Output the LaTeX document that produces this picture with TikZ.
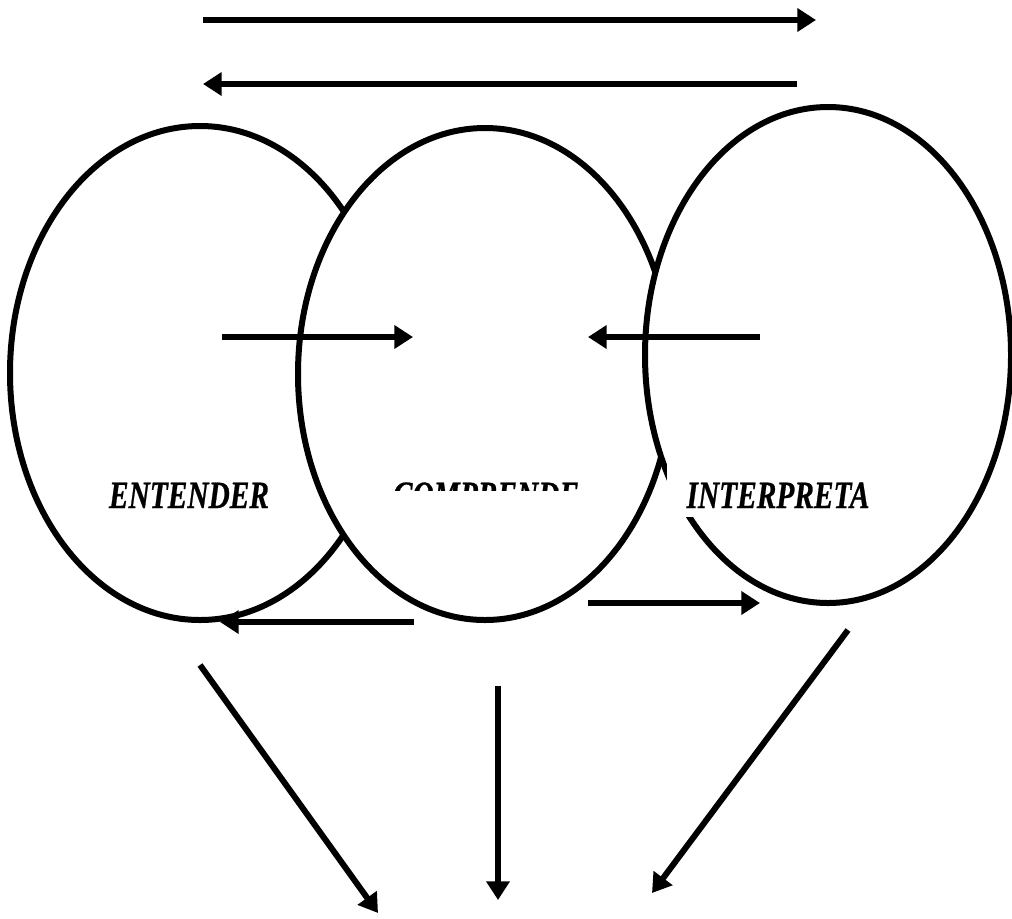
\documentclass[tikz,border=0pt]{standalone}
\usepackage{fontspec}
\usepackage{tikz}
\usetikzlibrary{shapes.geometric, arrows.meta}
\newfontfamily\labelfont[FakeStretch=0.76, FakeBold=0.6]{Liberation Serif}
\tikzstyle{oval} = [
    ellipse,
    draw=black,
    fill=white,
    line width=4.5pt,
    inner sep=0pt
]
\tikzstyle{word} = [
    font=\labelfont\bfseries\itshape\fontsize{29}{29}\selectfont,
    inner sep=0pt,
    anchor=base
]
\tikzstyle{arrow} = [
    line width=4.5pt,
    -{Triangle[length=14pt,width=17pt]}
]

\begin{document}
\begin{tikzpicture}[
    x=0.75pt,
    y=-0.75pt
]

\useasboundingbox (0,0) rectangle (1012,918);

\node (entender) [oval, minimum width=285pt, minimum height=370.5pt] at (200,373) {};

\node (entenderText) [word] at (189,508)
{ENTENDER};

\node (comprende) [oval, minimum width=280.5pt, minimum height=369pt] at (485,374) {};

% the caption box is too small, only the top of the word shows
\begin{scope}
\clip (370,450) rectangle (610,490);
\node (comprendeText) [word] at (486,508)
{COMPRENDE};
\end{scope}

\node (interpreta) [oval, minimum width=274.5pt, minimum height=372pt] at (828,355) {};

\node (interpretaText) [word, fill=white, text height=38pt, text depth=6.75pt, inner xsep=15pt] at (778,508)
{INTERPRETA};

% loose arrow ends
\coordinate (topA) at (203,20);
\coordinate (topB) at (816,20);
\coordinate (backA) at (797,84);
\coordinate (backB) at (203,84);
\coordinate (midA) at (222,337);
\coordinate (midB) at (413,337);
\coordinate (midC) at (760,337);
\coordinate (midD) at (588,337);
\coordinate (lowA) at (414,622);
\coordinate (lowB) at (220,622);
\coordinate (lowC) at (588,603);
\coordinate (lowD) at (760,603);
\coordinate (outL) at (200,665);
\coordinate (outM) at (498,686);
\coordinate (outR) at (848,630);
\coordinate (sinkL) at (378,913);
\coordinate (sinkM) at (498,900);
\coordinate (sinkR) at (652,893);

\draw [arrow] (topA) -- (topB);

\draw [arrow] (backA) -- (backB);

\draw [arrow] (midA) -- (midB);

\draw [arrow] (midC) -- (midD);

\draw [arrow] (lowA) -- (lowB);

\draw [arrow] (lowC) -- (lowD);

\draw [arrow] (outL) -- (sinkL);

\draw [arrow] (outM) -- (sinkM);

\draw [arrow] (outR) -- (sinkR);

\end{tikzpicture}
\end{document}
